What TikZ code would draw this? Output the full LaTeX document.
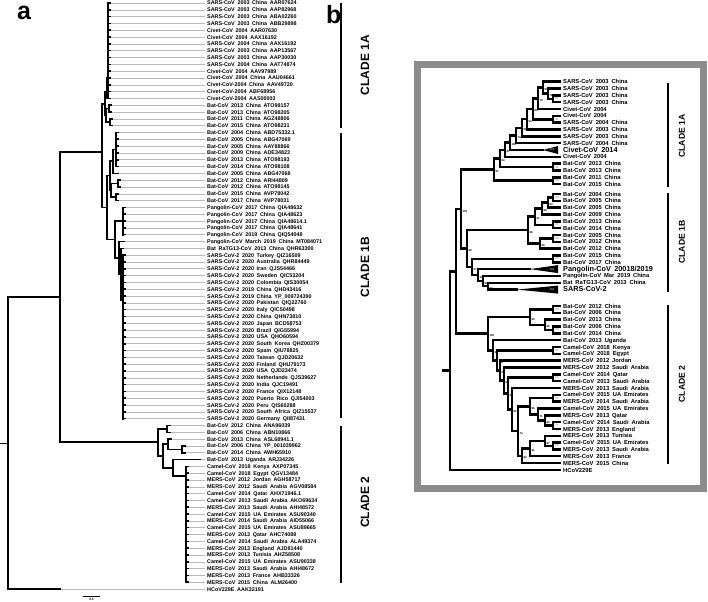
\documentclass[tikz,border=0pt]{standalone}
\usepackage{fontspec}
\setmainfont{Liberation Sans}
\definecolor{framegray}{RGB}{140,140,140}
\definecolor{leadgray}{RGB}{185,185,185}
\newcommand\wsp{\spaceskip=0.5em\relax}
\newcommand\largelab{\fontsize{7.3bp}{8bp}\selectfont\spaceskip=0.45em\relax}
\tikzset{
 br/.style={line width=1.6bp, line cap=rect},
 bb/.style={line width=2.5bp, line cap=rect},
 lead/.style={line width=0.5bp, leadgray},
 laba/.style={anchor=base west, inner sep=0, font=\fontsize{5.4bp}{6bp}\selectfont\bfseries},
 labb/.style={anchor=base west, inner sep=0, font=\fontsize{5.8bp}{6.5bp}\selectfont\bfseries},
 cladea/.style={rotate=90, inner sep=0, font=\fontsize{12bp}{14bp}\selectfont\bfseries},
 cladeb/.style={rotate=90, inner sep=0, font=\fontsize{8.6bp}{10bp}\selectfont\bfseries},
 bs/.style={anchor=west, inner sep=0, font=\fontsize{2.8bp}{3bp}\selectfont\bfseries},
 bsw/.style={anchor=center, inner sep=0, text=black!35, font=\fontsize{2.8bp}{3bp}\selectfont\bfseries},
 panel/.style={anchor=base west, inner sep=0, font=\fontsize{25bp}{25bp}\selectfont\bfseries},
}
% pair bracket in panel b: y1 y2 label
\newcommand\pairb[3]{%
 \draw[bb] (553,#1)--(553,#2) (553,#1)--(560,#1) (553,#2)--(560,#2);
 \node[bsw] at (556.8,{(#1+#2)/2}) {#3};}
\newcommand\trib[3]{%
 \fill (#1,#2)--(558,{#2-4})--(558,{#2+4})--cycle;
 \node[bsw] at (552,#2) {#3};}
\begin{document}
\begin{tikzpicture}[x=1bp,y=-1bp]
\useasboundingbox (0,0) rectangle (708,602);
\fill[white] (0,0) rectangle (708,602);

% ---------------- panel a ----------------
\node[panel] (pa) at (17,20) {a};

% leader lines
\foreach \i in {1,...,15} \draw[lead] (110,{3+(\i-1)*6.814})--(205,{3+(\i-1)*6.814});
\foreach \i in {16,17} \draw[lead] (111,{3+(\i-1)*6.814})--(205,{3+(\i-1)*6.814});
\foreach \i in {18,19} \draw[lead] (112,{3+(\i-1)*6.814})--(205,{3+(\i-1)*6.814});
\foreach \i in {20,...,26,29,30} \draw[lead] (118,{3+(\i-1)*6.814})--(205,{3+(\i-1)*6.814});
\foreach \i in {27,28} \draw[lead] (120,{3+(\i-1)*6.814})--(205,{3+(\i-1)*6.814});
\foreach \i in {31,...,36,38,39,...,62} \draw[lead] (125,{3+(\i-1)*6.814})--(205,{3+(\i-1)*6.814});
\draw[lead] (123,248.3)--(205,248.3);
\foreach \i in {63,64} \draw[lead] (170,{3+(\i-1)*6.814})--(205,{3+(\i-1)*6.814});
\draw[lead] (171,439.1)--(205,439.1);
\foreach \i in {66,67} \draw[lead] (185,{3+(\i-1)*6.814})--(205,{3+(\i-1)*6.814});
\draw[lead] (200,459.5)--(205,459.5);
\foreach \i in {69,...,86} \draw[lead] (188,{3+(\i-1)*6.814})--(205,{3+(\i-1)*6.814});
\draw[lead] (60,589)--(205,589);

% root and backbone
\draw[br] (0,443.5)--(8,443.5);
\draw[br] (8,297)--(8,589);
\draw[br] (8,297)--(60,297);
\draw[br] (8,589)--(60,589);
\draw[br] (60,152)--(60,442);
% clade 2
\draw[br] (60,442)--(158,442);
\draw[br] (158,428.9)--(158,456);
\draw[br] (158,428.9)--(167,428.9) (167,425.5)--(167,432.3) (167,425.5)--(170,425.5) (167,432.3)--(170,432.3);
\draw[br] (158,456)--(163,456) (163,444.2)--(163,467.8);
\draw[br] (163,444.2)--(168,444.2) (168,439.1)--(168,449.3) (168,439.1)--(171,439.1) (168,449.3)--(182,449.3)
          (182,445.9)--(182,452.7) (182,445.9)--(185,445.9) (182,452.7)--(185,452.7);
\draw[br] (163,467.8)--(173,467.8) (173,459.5)--(173,476) (173,459.5)--(200,459.5) (173,476)--(186,476)
          (186,466.4)--(186,582.2);
\foreach \i in {69,...,86} \draw[br] (186,{3+(\i-1)*6.814})--(188,{3+(\i-1)*6.814});
% clade 1
\draw[br] (60,152)--(102,152) (102,104)--(102,207.5);
\draw[br] (102,104)--(105,104) (105,92)--(105,115.4);
\draw[br] (105,92)--(108,92) (108,3)--(108,98.4) (106.5,78)--(106.5,98.4);
\foreach \i in {1,...,15} \draw[br] (108,{3+(\i-1)*6.814})--(110,{3+(\i-1)*6.814});
\draw[br] (105,115.4)--(106,115.4) (106,108.6)--(106,122.2)
          (106,108.6)--(109,108.6) (109,105.2)--(109,112) (109,105.2)--(111,105.2) (109,112)--(111,112)
          (106,122.2)--(110,122.2) (110,118.8)--(110,125.6) (110,118.8)--(112,118.8) (110,125.6)--(112,125.6);
\draw[br] (102,207.5)--(107,207.5) (107,175.7)--(107,239.4);
\draw[br] (107,175.7)--(110,175.7) (110,161)--(110,190.4);
\draw[br] (110,161)--(113,161) (113,149.5)--(113,173.4) (113,149.5)--(116,149.5) (116,132.5)--(116,166.5)
          (113,173.4)--(118,173.4);
\foreach \i in {20,...,25} \draw[br] (116,{3+(\i-1)*6.814})--(118,{3+(\i-1)*6.814});
\draw[br] (110,190.4)--(111,190.4) (111,183.6)--(111,197.2) (111,183.6)--(118,183.6) (118,180.2)--(118,187)
          (118,180.2)--(120,180.2) (118,187)--(120,187)
          (111,197.2)--(116,197.2) (116,193.8)--(116,200.6) (116,193.8)--(118,193.8) (116,200.6)--(118,200.6);
\draw[br] (107,239.4)--(115,239.4) (115,221)--(115,257.8) (115,221)--(123,221) (123,207.4)--(123,234.7);
\foreach \i in {31,...,35} \draw[br] (123,{3+(\i-1)*6.814})--(125,{3+(\i-1)*6.814});
\draw[br] (115,257.8)--(119,257.8) (119,241.5)--(119,274) (119,241.5)--(124,241.5) (119,274)--(121,274)
          (121,248.3)--(121,300) (121,248.3)--(123,248.3) (121,300)--(123,300) (123,255.1)--(123,418.7);
\foreach \i in {38,...,62} \draw[br] (123,{3+(\i-1)*6.814})--(125,{3+(\i-1)*6.814});

% labels panel a
\foreach \t [count=\i] in {
SARS-CoV 2003 China AAR07624, SARS-CoV 2003 China AAP82968, SARS-CoV 2003 China ABA02260,
SARS-CoV 2003 China ABB29898, Civet-CoV 2004 AAR07630, Civet-CoV 2004 AAX16192,
SARS-CoV 2004 China AAX16192, SARS-CoV 2003 China AAP13567, SARS-CoV 2003 China AAP30030,
SARS-CoV 2004 China AAT74874, Civet-CoV 2004 AAV97989, Civet-CoV 2004 China AAU04661,
Civet-CoV-2004 China AAV49720, Civet-CoV-2004 ABF68956, Civet-CoV-2004 AAS00003,
Bat-CoV 2013 China ATO98157, Bat-CoV 2013 China ATO98205, Bat-CoV 2011 China AGZ48806,
Bat-CoV 2015 China ATO98231, Bat-CoV 2004 China ABD75332.1, Bat-CoV 2005 China ABG47069,
Bat-CoV 2005 China AAY88866, Bat-CoV 2009 China ADE34823, Bat-CoV 2013 China ATO98193,
Bat-CoV 2014 China ATO98108, Bat-CoV 2005 China ABG47068, Bat-CoV 2012 China ARI44809,
Bat-CoV 2012 China ATO98145, Bat-CoV 2015 China AVP78042, Bat-CoV 2017 China AVP78031,
Pangolin-CoV 2017 China QIA48632, Pangolin-CoV 2017 China QIA48623, Pangolin-CoV 2017 China QIA48614.1,
Pangolin-CoV 2017 China QIA48641, Pangolin-CoV 2019 China QIQ54048, Pangolin-CoV March 2019 China MT084071,
Bat RaTG13-CoV 2013 China QHR63300, SARS-CoV-2 2020 Turkey QIZ16509, SARS-CoV-2 2020 Australia QHR84449,
SARS-CoV-2 2020 Iran QJS54466, SARS-CoV-2 2020 Sweden QIC53204, SARS-CoV-2 2020 Colombia QIS30054,
SARS-CoV-2 2019 China QHD43416, SARS-CoV-2 2019 China YP\_009724390, SARS-CoV-2 2020 Pakistan QIQ22760,
SARS-CoV-2 2020 Italy QIC50498, SARS-CoV-2 2020 China QHN73810, SARS-CoV-2 2020 Japan BCD58753,
SARS-CoV-2 2020 Brazil QIG55994, SARS-CoV-2 2020 USA QHO60594, SARS-CoV-2 2020 South Korea QHZ00379,
SARS-CoV-2 2020 Spain QIU78825, SARS-CoV-2 2020 Taiwan QJD20632, SARS-CoV-2 2020 Finland QHU79173,
SARS-CoV-2 2020 USA QJD23474, SARS-CoV-2 2020 Netherlands QJS39627, SARS-CoV-2 2020 India QJC19491,
SARS-CoV-2 2020 France QIX12148, SARS-CoV-2 2020 Puerto Rico QJI54003, SARS-CoV-2 2020 Peru QIS60288,
SARS-CoV-2 2020 South Africa QIZ15537, SARS-CoV-2 2020 Germany QII87431, Bat-CoV 2012 China ANA96039,
Bat-CoV 2006 China ABN10866, Bat-CoV 2013 China ASL68941.1, Bat-CoV 2006 China YP\_001039962,
Bat-CoV 2014 China AWH65910, Bat-CoV 2013 Uganda ARJ34226, Camel-CoV 2018 Kenya AXP07345,
Camel-CoV 2018 Egypt QGV13484, MERS-CoV 2012 Jordan AGH58717, MERS-CoV 2012 Saudi Arabia AGV08584,
Camel-CoV 2014 Qatar AHX71946.1, Camel-CoV 2013 Saudi Arabia AKO69634, MERS-CoV 2013 Saudi Arabia AHI48572,
Camel-CoV 2015 UA Emirates ASU90340, MERS-CoV 2014 Saudi Arabia AID55066, Camel-CoV 2015 UA Emirates ASU89665,
MERS-CoV 2013 Qatar AHC74088, Camel-CoV 2014 Saudi Arabia ALA49374, MERS-CoV 2013 England AJD81440,
MERS-CoV 2013 Tunisia AHZ58508, Camel-CoV 2015 UA Emirates ASU90338, MERS-CoV 2013 Saudi Arabia AHI48672,
MERS-CoV 2013 France AHB33326, MERS-CoV 2015 China ALM26400, HCoV229E AAK32191}
 \node[laba] (la\i) at (207,{3+(\i-1)*6.814+2}) {\wsp\t};

% scale bar
\coordinate (sb1) at (83,596.5);
\coordinate (sb2) at (100,596.5);
\draw[line width=0.9bp] (sb1)--(sb2);
\node[inner sep=0, anchor=north, font=\fontsize{3.2bp}{3.5bp}\selectfont\bfseries] (sbl) at (91.5,598) {0.5};

% clade bars panel a
\draw[line width=1.5bp] (341,3)--(341,128) (341,133)--(341,418) (341,426)--(341,583);
\node[cladea] (c1a) at (365,65) {CLADE 1A};
\node[cladea] (c1b) at (365,267) {CLADE 1B};
\node[cladea] (c2a) at (365,502) {CLADE 2};

% ---------------- panel b ----------------
\node[panel] (pb) at (326,24) {b};
\draw[framegray, line width=7bp] (417.5,64.5) rectangle (703.5,488.5);

% root and backbone
\draw[bb] (443,370.7)--(450,370.7) (450,271.4)--(450,469.9) (450,469.9)--(560,469.9)
          (450,271.4)--(456,271.4) (456,209.1)--(456,333.7);
% clade 1
\draw[bb] (456,209.1)--(461,209.1) (461,169.6)--(461,248.6);
\draw[bb] (461,169.6)--(494,169.6) (494,158.4)--(494,180.7) (494,180.7)--(553,180.7);
\pairb{177.32}{184.15}{100}
\draw[bb] (494,158.4)--(500,158.4) (500,149.8)--(500,167.1) (500,167.1)--(553,167.1);
\pairb{163.66}{170.49}{83}
\draw[bb] (500,149.8)--(505,149.8) (505,142.7)--(505,156.83) (505,156.83)--(560,156.83);
\draw[bb] (505,142.7)--(510,142.7) (510,135.5)--(510,150) (510,150)--(543,150);
\trib{543}{150}{100}
\draw[bb] (510,135.5)--(516,135.5) (516,127.8)--(516,143.17) (516,143.17)--(560,143.17);
\draw[bb] (516,127.8)--(522,127.8) (522,119.2)--(522,136.34) (522,136.34)--(560,136.34);
\draw[bb] (522,119.2)--(527,119.2) (527,108.8)--(527,129.51) (527,129.51)--(560,129.51);
\draw[bb] (527,108.8)--(533,108.8) (533,98.4)--(533,119.3) (533,119.3)--(553,119.3);
\pairb{115.85}{122.68}{82}
\draw[bb] (533,98.4)--(538,98.4) (538,87.7)--(538,109.02) (538,109.02)--(560,109.02);
\draw[bb] (538,87.7)--(543,87.7) (543,81.7)--(543,93.7) (543,81.7)--(560,81.7);
\draw[bb] (543,93.7)--(548,93.7) (548,88.53)--(548,98.8) (548,88.53)--(560,88.53) (548,98.8)--(553,98.8);
\pairb{95.36}{102.19}{80}
% clade 1B
\draw[bb] (461,248.6)--(467,248.6) (467,230.1)--(467,267);
\draw[bb] (467,230.1)--(528,230.1) (528,216.6)--(528,243.5);
\draw[bb] (528,216.6)--(535,216.6) (535,208.5)--(535,224.8) (535,224.8)--(553,224.8);
\pairb{221.3}{228.2}{81}
\draw[bb] (535,208.5)--(542,208.5) (542,202.6)--(542,214.5) (542,214.5)--(560,214.5);
\draw[bb] (542,202.6)--(548,202.6) (548,197.4)--(548,207.7) (548,207.7)--(560,207.7) (548,197.4)--(553,197.4);
\pairb{194.0}{200.8}{100}
\draw[bb] (528,243.5)--(540,243.5) (540,238.4)--(540,248.6) (540,248.6)--(560,248.6) (540,238.4)--(553,238.4);
\pairb{235.0}{241.8}{100}
\draw[bb] (467,267)--(472,267) (472,258.9)--(472,275.1) (472,258.9)--(553,258.9);
\pairb{255.5}{262.3}{100}
\draw[bb] (472,275.1)--(478,275.1) (478,269.1)--(478,281.1) (478,269.1)--(530,269.1);
\trib{530}{269.1}{100}
\draw[bb] (478,281.1)--(483,281.1) (483,276)--(483,286.2) (483,276)--(560,276);
\draw[bb] (483,286.2)--(488,286.2) (488,282.8)--(488,289.6) (488,282.8)--(560,282.8) (488,289.6)--(517,289.6);
\trib{517}{289.6}{100}
% clade 2
\draw[bb] (456,333.7)--(488,333.7) (488,317.1)--(488,350.3);
\draw[bb] (488,317.1)--(530,317.1) (530,309.4)--(530,324.8) (530,309.4)--(553,309.4);
\pairb{306.0}{312.8}{100}
\draw[bb] (530,324.8)--(545,324.8) (545,319.6)--(545,329.9) (545,319.6)--(560,319.6) (545,329.9)--(553,329.9);
\pairb{326.5}{333.3}{100}
\draw[bb] (488,350.3)--(493,350.3) (493,340.1)--(493,360.5) (493,340.1)--(560,340.1);
\draw[bb] (493,360.5)--(497,360.5) (497,350.4)--(497,370.6) (497,350.4)--(553,350.4);
\pairb{347.0}{353.8}{92}
\draw[bb] (497,370.6)--(500,370.6) (500,360.6)--(500,380.6) (500,360.6)--(560,360.6);
\draw[bb] (500,380.6)--(504,380.6) (504,367.5)--(504,393.6) (504,367.5)--(560,367.5);
\draw[bb] (504,393.6)--(508,393.6) (508,377.7)--(508,409.5) (508,377.7)--(553,377.7);
\pairb{374.3}{381.1}{93}
\draw[bb] (508,409.5)--(512,409.5) (512,387.9)--(512,431.1) (512,387.9)--(560,387.9);
\draw[bb] (512,431.1)--(518,431.1) (518,406.3)--(518,455.8);
\draw[bb] (518,406.3)--(530,406.3) (530,398.2)--(530,414.4) (530,398.2)--(553,398.2);
\pairb{394.8}{401.6}{87}
\draw[bb] (530,414.4)--(538,414.4) (538,408.4)--(538,420.4) (538,408.4)--(560,408.4);
\draw[bb] (538,420.4)--(545,420.4) (545,415.3)--(545,425.5) (545,415.3)--(560,415.3) (545,425.5)--(553,425.5);
\pairb{422.1}{428.9}{71}
\draw[bb] (518,455.8)--(522,455.8) (522,448.6)--(522,463.1) (522,463.1)--(560,463.1);
\draw[bb] (522,448.6)--(530,448.6) (530,440.9)--(530,456.2) (530,456.2)--(560,456.2);
\draw[bb] (530,440.9)--(545,440.9) (545,435.8)--(545,446) (545,435.8)--(560,435.8) (545,446)--(553,446);
\pairb{442.6}{449.4}{83}

% bootstrap values at internal nodes
\foreach \x/\y/\t in {461/209.1/100, 467/248.6/99, 488/333.7/100,
  494/169.6/97, 500/158.4/64, 505/149.8/87, 510/142.7/100, 516/135.5/74, 522/127.8/91,
  527/119.2/94, 533/108.8/80, 538/98.4/73, 543/87.7/97, 548/93.7/76,
  548/202.6/94, 542/208.5/88, 535/216.6/97, 540/243.5/59, 528/230.1/99,
  472/267/97, 478/275.1/100, 483/281.1/99, 488/286.2/97,
  530/317.1/99, 545/324.8/95, 493/350.3/99, 497/360.5/100, 500/370.6/57, 504/380.6/98,
  508/393.6/95, 512/409.5/81, 518/431.1/74, 530/406.3/96, 538/414.4/71, 545/420.4/63,
  522/455.8/84, 530/448.6/91, 545/440.9/97}
 \node[bs] at ({\x+1.3},{\y+2.2}) {\t};

% labels panel b
\foreach \t [count=\i] in {
SARS-CoV 2003 China, SARS-CoV 2003 China, SARS-CoV 2003 China, SARS-CoV 2003 China,
Civet-CoV 2004, Civet-CoV 2004, SARS-CoV 2004 China, SARS-CoV 2003 China, SARS-CoV 2003 China,
SARS-CoV 2004 China, \largelab Civet-CoV 2014, Civet-CoV 2004, Bat-CoV 2013 China, Bat-CoV 2013 China,
Bat-CoV 2011 China, Bat-CoV 2015 China, Bat-CoV 2004 China, Bat-CoV 2005 China, Bat-CoV 2005 China,
Bat-CoV 2009 China, Bat-CoV 2013 China, Bat-CoV 2014 China, Bat-CoV 2005 China, Bat-CoV 2012 China,
Bat-CoV 2012 China, Bat-CoV 2015 China, Bat-CoV 2017 China, \largelab Pangolin-CoV 20018/2019,
Pangolin-CoV Mar 2019 China, Bat RaTG13-CoV 2013 China, \largelab SARS-CoV-2,
Bat-CoV 2012 China, Bat-CoV 2006 China, Bat-CoV 2013 China, Bat-CoV 2006 China, Bat-CoV 2014 China,
Bat-CoV 2013 Uganda, Camel-CoV 2018 Kenya, Camel-CoV 2018 Egypt, MERS-CoV 2012 Jordan,
MERS-CoV 2012 Saudi Arabia, Camel-CoV 2014 Qatar, Camel-CoV 2013 Saudi Arabia, MERS-CoV 2013 Saudi Arabia,
Camel-CoV 2015 UA Emirates, MERS-CoV 2014 Saudi Arabia, Camel-CoV 2015 UA Emirates, MERS-CoV 2013 Qatar,
Camel-CoV 2014 Saudi Arabia, MERS-CoV 2013 England, MERS-CoV 2013 Tunisia, Camel-CoV 2015 UA Emirates,
MERS-CoV 2013 Saudi Arabia, MERS-CoV 2013 France, MERS-CoV 2015 China, HCoV229E}
 \node[labb] (lb\i) at (563,{81.7+(\i-1)*6.83+3*(\i>16)+9.6*(\i>31)+2.05}) {\wsp\t};

% clade bars panel b
\draw[line width=1.4bp] (668,83)--(668,187) (668,193)--(668,292) (668,305)--(668,464);
\node[cladeb] (d1a) at (682,136) {CLADE 1A};
\node[cladeb] (d1b) at (682,242) {CLADE 1B};
\node[cladeb] (d2a) at (682,384) {CLADE 2};
\end{tikzpicture}
\end{document}
